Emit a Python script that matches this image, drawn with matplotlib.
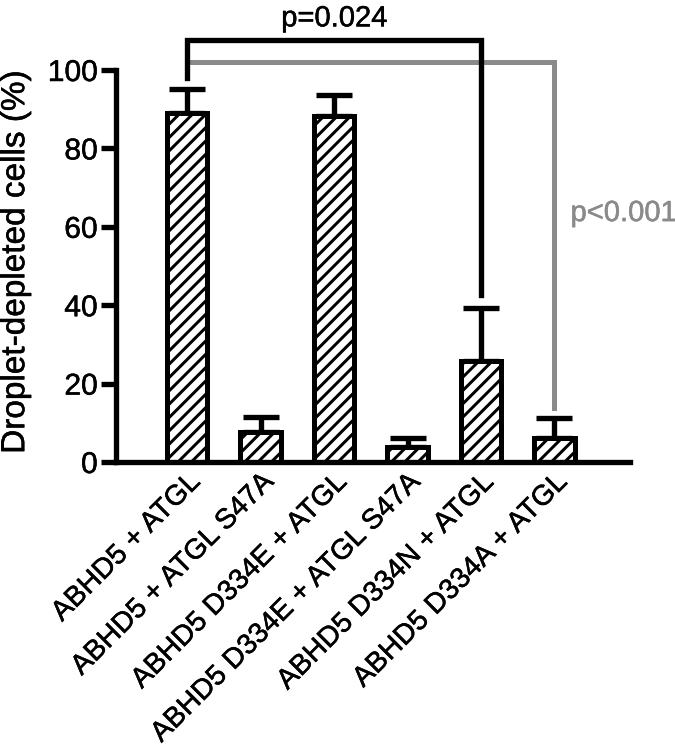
import matplotlib
matplotlib.use('Agg')
import matplotlib.pyplot as plt
import matplotlib.patheffects as pe
import numpy as np

plt.rcParams['font.family'] = ['Liberation Sans', 'DejaVu Sans']
plt.rcParams['hatch.linewidth'] = 1.8

# data
groups = ['ABHD5 + ATGL', 'ABHD5 + ATGL S47A', 'ABHD5 D334E + ATGL',
          'ABHD5 D334E + ATGL S47A', 'ABHD5 D334N + ATGL', 'ABHD5 D334A + ATGL']
means = [89.0, 7.6, 88.2, 3.8, 25.8, 6.2]
sems = [6.2, 3.8, 5.3, 2.3, 13.4, 5.0]

# significance brackets: (left bar, right bar, height, left drop, right drop, label)
p_black = (0, 4, 107.6, 98.0, 42.6, 'p=0.024')
p_gray = (0, 5, 102.0, 102.0, 13.8, 'p<0.001')

# a touch heavier text, like the reference
thick = [pe.withStroke(linewidth=0.3, foreground='black')]
thick_gray = [pe.withStroke(linewidth=0.3, foreground='#8a8a8a')]

fig = plt.figure(figsize=(5.625, 6.3), dpi=120)
ax = fig.add_axes([116 / 675, 1 - 462 / 756, 514 / 675, 392 / 756])

x = np.arange(len(groups))
ax.bar(x, means, width=0.55, color='white', edgecolor='black',
       linewidth=3, hatch='///', zorder=2)
ax.errorbar(x, means, yerr=[np.zeros(len(sems)), sems], fmt='none',
            ecolor='black', elinewidth=3.2, capsize=11, capthick=3.2, zorder=1)

# brackets
l, r, h, dl, dr, lab = p_gray
ax.plot([x[l], x[r], x[r]], [h, h, dr], color='#8a8a8a', lw=3,
        clip_on=False, solid_joinstyle='miter', zorder=3)
ax.text(x[r] + 0.22, 63.5, lab, color='#8a8a8a', fontsize=17.5,
        ha='left', va='center', path_effects=thick_gray)

l, r, h, dl, dr, lab = p_black
ax.plot([x[l], x[l], x[r], x[r]], [dl, h, h, dr], color='black', lw=3.2,
        clip_on=False, solid_joinstyle='miter', zorder=4)
ax.text((x[l] + x[r]) / 2, h + 2.0, lab, color='black', fontsize=17.5,
        ha='center', va='bottom', path_effects=thick)

ax.set_xlim(-0.97, 6.03)
ax.set_ylim(0, 100)
ax.set_yticks([0, 20, 40, 60, 80, 100])
ax.set_xticks(x)
ax.set_xticklabels(groups, rotation=45, ha='right', rotation_mode='anchor',
                   fontsize=17)
ax.tick_params(axis='x', length=0, pad=4)
ax.tick_params(axis='y', length=9, width=3.2, labelsize=18, pad=2)
for lbl in ax.get_xticklabels() + ax.get_yticklabels():
    lbl.set_path_effects(thick)
for s in ['top', 'right']:
    ax.spines[s].set_visible(False)
for s in ['left', 'bottom']:
    ax.spines[s].set_linewidth(3.2)
ax.set_ylabel('Droplet-depleted cells (%)', fontsize=20,
              path_effects=thick)
ax.yaxis.set_label_coords(-0.165, 0.51)

fig.savefig('out.png', dpi=120)
